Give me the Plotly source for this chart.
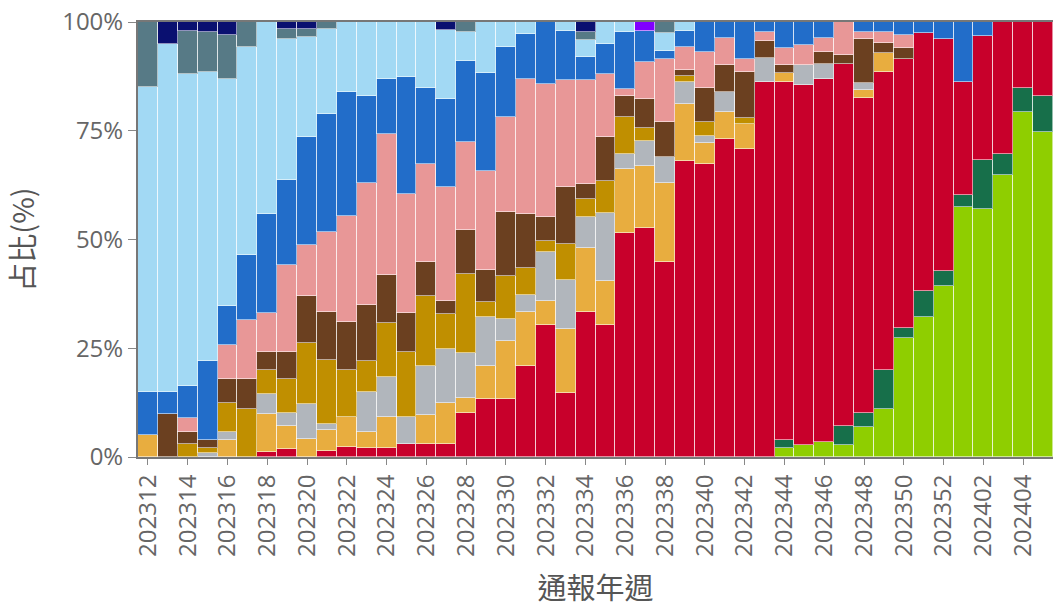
import plotly.graph_objects as go

weeks = [str(w) for w in list(range(202312, 202353)) + list(range(202401, 202406))]

N = None
# stacking order bottom -> top
jn1 = [N]*32 + [2, 2.8, 3.4, 2.8, 7, 11, 27.3, 32.1, 39.3, 57.5, 56.9, 64.8, 79.2, 74.6]
ba286 = [N]*32 + [1.9, N, N, 4.4, 3.2, 9, 2.4, 6.1, 3.5, 2.7, 11.4, 4.8, 5.7, 8.4]
eg5 = [N, N, N, N, N, N, 1.2, 1.8, N, 1.4, 2.4, 2, 2, 3.1, 3.1, 3.1, 10.2, 13.3, 13.3, 20.9,
       30.3, 14.6, 33.3, 30.3, 51.6, 52.7, 44.8, 68, 67.3, 73.1, 70.8, 86.3, 82.4, 82.7, 83.5, 83.1,
       72.4, 68.4, 61.8, 59.2, 53.3, 26.1, 28.5, 30.4, 15.1, 17]
xbb2_3 = [5, N, N, N, 3.9, N, 8.8, 5.3, 4.1, 4.8, 6.7, 3.7, 7.1, N, 6.6, 9.4, 3.4, 7.6, 13.4, 12.4,
          5.6, 14.8, 14.7, 10.2, 14.7, 14.3, 18.3, 13.1, 4.8, 6.3, 5.7, N, 1.9, N, N, N,
          1.8, 4.4, N, N, N, N, N, N, N, N]
xbb1_9_2 = [N, N, N, 1, 1.8, N, 4.5, 3.1, 8.1, 1.4, N, 9.3, 9.4, 6, 11.2, 12.3, 10.2, 11.2, 5, 3.9,
            11.3, 11.4, 7.2, 15.7, 3.4, 5.6, 5.9, 5.2, 1.8, 4.6, N, 5.5, N, 4.6, 3.4, N,
            1.5, N, N, N, N, N, N, N, N, N]
xbb1_9_1 = [N, N, 3, 1, 6.8, 11, 5.5, 7.7, 13.9, 14.7, 10.9, 7.1, 12.2, 15.1, 16, 8, 18.3, 3.6, 9.9, 6.3,
            2.5, 8.2, 4, 7.2, 8.4, 3, N, 1.3, 3.2, N, 1.4, N, N, N, N, N,
            N, N, N, N, N, N, N, N, N, N]
fl = [N, 10, 2.8, 2, 5.4, 6.9, 4.1, 6.2, 10.8, 11, 11, 12.8, 11.1, 9, 8, 3.1, 10.1, 7.4, 14.8, 12.3,
      5.5, 13, 3.5, 10.1, 4.9, 6.7, 8.1, 1.4, 7.8, 6.1, 10.5, 3.8, 1.9, N, 2.7, 2.1,
      10.2, 2.3, 2.6, N, N, N, N, N, N, N]
xbb1_16 = [N, N, 3.1, N, 7.8, 13.6, 8.9, 20, 11.8, 18.5, 24.4, 28, 32.5, 27.3, 22.5, 26.2, 20.3, 22.6, 21.7, 31.1,
           30.5, 24.7, 24, 14.5, 1.7, 8.6, 14.4, 5.2, 8.3, 6.3, 3.1, 2.2, 3.9, 4.6, 3.4, 7.6,
           1.7, 2.5, 2.8, N, N, N, N, N, N, N]
xbb = [10, 5, 7.4, 18.1, 9.1, 14.9, 22.9, 19.6, 24.8, 27, 28.6, 20.1, 12.5, 26.9, 17.5, 20.1, 18.5, 22.5, 16.2, 10.3,
       14.3, 11.3, 5.3, 6.9, 12.9, 7, 1.8, 3.8, 6.8, 3.6, 8.5, 2.2, 6, 5.3, 3.6, N,
       2.2, 2.4, 3.1, 2.6, 3.9, 13.7, 3.2, N, N, N]
xbb1_5 = [70, 80, 71.7, 66.5, 52.1, 47.8, 44.1, 32.4, 23.1, 19.7, 16, 17, 13.2, 12.6, 15.1, 16, 6.6, 11.8, 5.7, 2.8,
          N, 2, 3.9, 5.1, 2.4, N, 4.1, 2, N, N, N, N, N, N, N, N,
          N, N, N, N, N, N, N, N, N, N]
ba2_75 = [15, N, 10, 9.2, 10.1, 5.8, N, 2.4, 1.7, 1.5, N, N, N, N, N, N, 2.4, N, N, N,
          N, N, 1.7, N, N, N, 2.6, N, N, N, N, N, N, N, N, N,
          N, N, N, N, N, N, N, N, N, N]
ba5 = [N, 5, 2, 2.2, 3, N, N, 1.5, 1.7, N, N, N, N, N, N, 1.8, N, N, N, N,
       N, N, 2.4, N, N, N, N, N, N, N, N, N, N, N, N, N,
       N, N, N, N, N, N, N, N, N, N]
other = [N]*25 + [2.1] + [N]*20

y_ticks = [0, 25, 50, 75, 100]
y_ticktext = [f"{v}%" for v in y_ticks]

series = [
    ("JN.1", jn1, "#8fce00"),
    ("BA.2.86", ba286, "#176f4a"),
    ("EG.5", eg5, "#c8002b"),
    ("XBB.2.3", xbb2_3, "#e8ad3f"),
    ("XBB.1.9.2", xbb1_9_2, "#b1b6bc"),
    ("XBB.1.9.1", xbb1_9_1, "#c08f00"),
    ("FL", fl, "#6b4020"),
    ("XBB.1.16", xbb1_16, "#e89797"),
    ("XBB", xbb, "#226dc9"),
    ("XBB.1.5", xbb1_5, "#a2d9f4"),
    ("BA.2.75", ba2_75, "#577a86"),
    ("BA.5", ba5, "#0a1070"),
    ("其他", other, "#8000ff"),
]

fig = go.Figure()
for name, vals, color in series:
    fig.add_trace(go.Bar(
        x=weeks, y=vals, name=name,
        marker=dict(color=color, line=dict(color="rgba(255,255,255,0.55)", width=1)),
    ))

tick_font = dict(family="Open Sans", size=24, color="#666666")
title_font = dict(family="Noto Sans CJK TC", size=29, color="#555555")

fig.update_layout(
    barmode="stack",
    barnorm="percent",
    bargap=0,
    width=1053, height=607,
    margin=dict(l=138, r=0, t=22, b=150),
    plot_bgcolor="white",
    paper_bgcolor="white",
    showlegend=False,
    xaxis=dict(
        type="category",
        tickmode="array",
        tickvals=weeks[::2],
        ticktext=weeks[::2],
        tickangle=-90,
        tickfont=tick_font,
        ticks="outside", ticklen=6, tickcolor="#888888",
        showline=True, linecolor="#777777", linewidth=2, mirror=True,
        showgrid=False,
        automargin=False,
        ticklabeloverflow="allow",
        title=dict(text="通報年週", font=title_font, standoff=27),
    ),
    yaxis=dict(
        range=[0, 100],
        tickmode="array",
        tickvals=y_ticks,
        ticktext=y_ticktext,
        tickfont=tick_font,
        ticks="outside", ticklen=8, tickcolor="#888888",
        showline=True, linecolor="#777777", linewidth=2,
        showgrid=False, zeroline=False,
        automargin=False,
        ticklabeloverflow="allow",
        title=dict(text="占比(%)", font=title_font, standoff=31),
    ),
)

# remove the browser's default 8px page margin so the figure sits at the window origin
fig.write_html(
    "out.html",
    config={"displayModeBar": False},
    post_script="document.body.style.margin='0';",
)
